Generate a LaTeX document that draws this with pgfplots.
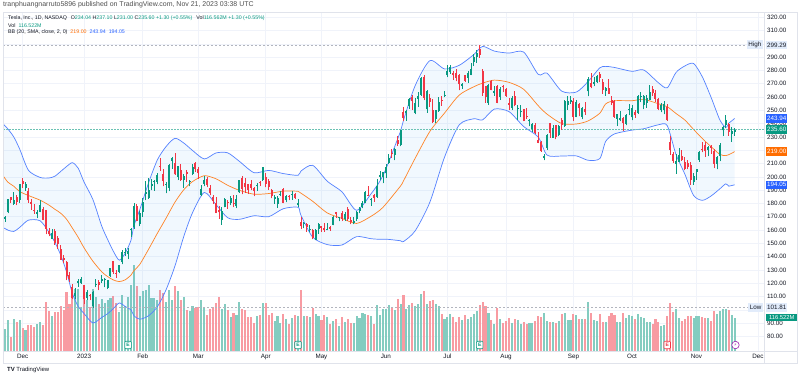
\documentclass[border=0pt]{standalone}
\usepackage{fontspec}
\setmainfont{Liberation Sans}
\newfontfamily\symfont{DejaVu Sans}
\usepackage{pgfplots}
\pgfplotsset{compat=1.18}
\usepackage{pgfplotstable}

\definecolor{upc}{RGB}{8,153,129}
\definecolor{dnc}{RGB}{242,54,69}
\definecolor{volup}{RGB}{132,204,192}
\definecolor{voldn}{RGB}{248,155,162}
\definecolor{bbblue}{RGB}{41,98,255}
\definecolor{bborange}{RGB}{255,109,0}
\definecolor{bbfillc}{RGB}{33,150,243}
\definecolor{gridc}{RGB}{240,243,250}
\definecolor{txt}{RGB}{19,23,34}
\definecolor{framec}{RGB}{224,227,235}
\definecolor{hlbg}{RGB}{226,236,251}
\definecolor{hdr}{RGB}{80,80,80}
\definecolor{purp}{RGB}{156,39,176}
\definecolor{dashc}{RGB}{178,181,190}

\newcommand{\lfnt}{\fontsize{6.3}{7}\selectfont}
\newcommand{\lgfnt}{\fontsize{5.3}{6.2}\selectfont}
\newcommand{\hdfnt}{\fontsize{7}{8}\selectfont}

% rising candles (close >= open)
\pgfplotstableread{
i o h l c v
0 168.6 170.9 166.2 169.9 78
1 173.6 183.6 172.5 183.2 109
3 179.9 188.5 179.0 182.9 112
5 182.4 194.8 180.6 194.7 109
7 191.8 196.3 189.6 194.9 73
11 172.2 175.2 169.1 173.4 97
12 173.8 182.5 173.4 179.1 104
16 153.4 160.9 153.3 157.7 123
24 110.4 116.3 108.2 112.7 221
25 120.4 123.6 117.5 121.8 221
26 119.9 124.5 119.7 123.2 157
28 109.1 114.6 107.5 113.6 180
30 103.0 114.4 101.8 113.1 220
31 119.0 123.5 117.1 119.8 190
33 122.1 126.0 120.5 123.2 183
34 122.6 124.1 117.0 123.6 169
35 116.6 122.6 115.6 122.4 180
36 125.7 131.7 125.0 131.5 186
39 128.7 133.5 127.4 133.4 138
40 135.9 145.4 134.3 143.8 197
41 143.0 146.5 140.6 143.9 158
42 141.9 146.4 138.1 144.4 192
43 160.0 161.4 154.8 160.3 234
44 162.4 180.7 161.2 177.9 306
46 164.6 174.3 162.8 173.2 196
47 173.9 183.8 169.9 181.4 213
48 187.3 196.8 182.6 188.3 217
49 184.0 199.0 183.7 190.0 232
50 193.0 198.2 189.9 194.8 186
51 196.4 197.5 189.6 196.8 186
52 196.1 203.0 194.3 201.3 180
55 194.4 196.3 187.6 194.6 172
56 191.9 209.8 189.4 209.3 216
57 211.8 214.7 206.1 214.2 181
59 200.0 208.4 197.5 208.3 213
61 197.9 202.0 191.8 200.9 191
63 196.3 197.7 192.8 196.9 142
64 202.0 209.4 201.3 207.6 161
67 186.7 193.8 186.0 190.9 181
68 194.8 200.5 192.9 197.8 154
74 167.5 177.4 163.9 174.5 147
75 177.3 183.8 177.1 183.3 168
77 180.4 185.8 178.8 184.1 121
79 178.1 186.4 176.6 183.3 129
80 188.3 198.0 188.0 197.6 172
86 193.1 195.3 189.4 193.9 123
88 197.5 207.8 197.2 207.5 170
92 183.1 186.4 179.7 185.1 106
93 179.9 185.3 176.9 184.5 123
94 186.7 189.2 185.6 186.8 100
96 183.0 186.5 180.9 185.9 114
98 186.3 189.7 182.7 187.0 116
100 179.1 183.5 177.7 180.6 125
102 164.8 166.0 161.3 165.1 123
104 159.8 163.5 158.5 160.7 121
106 152.6 160.5 152.4 160.2 130
107 160.9 165.0 157.3 164.3 123
110 160.0 165.0 159.9 160.6 120
112 164.0 170.8 163.5 170.1 107
114 169.0 169.8 166.6 169.2 88
116 168.7 173.6 166.8 172.1 103
119 165.7 169.5 164.4 166.5 98
120 168.4 174.5 167.2 173.9 125
121 174.2 177.1 172.5 176.9 117
122 177.2 182.0 176.3 180.1 136
123 180.7 189.3 180.1 188.9 132
125 182.6 184.2 178.2 182.9 124
127 184.6 198.6 184.5 193.2 162
128 200.1 204.5 197.5 201.2 128
129 199.8 204.0 195.1 203.9 150
130 202.6 209.8 199.4 207.5 149
131 210.2 217.3 209.8 214.0 164
133 216.1 221.9 212.5 221.3 146
135 224.2 235.2 223.0 234.9 165
137 247.9 250.0 242.2 249.8 150
138 253.5 259.7 251.3 258.7 162
140 248.4 259.0 247.3 255.9 160
141 258.9 263.6 252.8 260.5 167
142 261.5 274.8 261.1 274.5 201
144 250.8 265.0 248.3 264.6 166
147 243.2 250.4 240.9 250.2 165
148 249.7 259.9 248.9 256.2 159
150 260.6 264.5 259.9 261.8 112
151 276.5 284.3 275.1 279.8 120
152 278.8 283.9 277.6 282.5 131
156 268.7 270.9 266.4 269.8 108
158 274.6 279.5 270.6 277.9 113
159 277.0 285.3 276.3 281.4 119
160 286.6 292.2 283.6 290.4 131
161 290.2 295.3 286.0 293.3 141
165 255.9 269.9 254.1 269.1 136
167 263.3 268.0 261.0 264.4 95
169 259.9 267.3 258.2 266.4 112
173 252.0 260.5 250.2 259.3 100
175 251.4 253.7 242.8 251.5 111
176 248.6 253.9 245.0 249.7 96
179 241.8 243.8 238.0 242.7 99
180 235.7 240.7 233.8 239.8 99
184 214.1 217.6 212.4 215.5 136
185 221.6 232.1 220.6 231.3 106
187 229.3 239.0 229.3 236.9 101
189 231.3 239.0 230.4 238.6 106
191 238.6 257.5 237.6 257.2 135
192 254.2 260.5 250.6 256.9 108
193 256.0 261.2 255.1 258.1 108
195 245.0 258.0 244.9 256.5 129
197 245.1 252.8 243.3 251.5 112
199 264.3 274.9 260.6 273.6 175
201 270.1 275.0 268.1 271.3 111
202 271.3 276.7 270.4 276.0 107
205 264.4 267.9 261.2 266.5 103
209 243.4 247.1 238.3 247.0 104
210 243.0 249.6 241.7 244.1 101
212 240.0 247.6 238.7 246.4 117
213 250.1 254.8 246.4 250.2 128
214 244.8 254.3 242.6 251.6 123
216 248.1 261.9 247.6 261.2 130
217 260.0 263.6 256.3 260.1 119
218 254.0 261.7 250.7 260.5 117
219 255.3 261.4 252.0 259.7 101
220 257.8 268.9 257.7 263.6 103
224 250.1 255.4 248.5 253.9 89
225 250.1 257.2 247.1 254.9 93
229 210.0 217.0 202.5 212.1 150
230 211.4 222.1 211.3 216.5 118
235 196.1 202.8 194.1 200.8 118
236 204.0 206.0 197.9 205.7 123
237 213.0 219.2 211.5 218.5 125
240 220.0 223.1 215.7 222.2 117
243 210.0 215.4 205.7 214.7 130
244 215.6 225.4 211.6 223.7 140
245 235.0 238.1 230.7 237.4 149
246 239.3 246.7 236.5 242.8 150
248 232.0 237.4 226.5 234.3 129
249 234.04 237.10 231.00 235.60 116.5
}\upc

% falling candles (close < open)
\pgfplotstableread{
i o h l c v
2 185.1 185.2 180.6 182.9 50
4 184.9 186.4 178.8 180.8 102
6 197.1 198.9 191.8 194.7 80
8 189.4 191.3 180.6 182.5 93
9 181.2 183.6 175.3 179.8 92
10 175.0 179.4 172.2 174.0 84
13 176.1 177.4 167.5 167.8 93
14 174.9 175.1 156.9 161.0 175
15 159.3 161.6 155.3 156.8 140
17 159.6 161.0 149.0 150.2 139
18 154.0 155.3 145.8 149.9 138
19 146.1 148.5 137.7 137.8 159
20 139.3 141.3 135.0 137.6 145
21 136.0 136.6 122.3 125.4 210
22 126.4 128.6 121.0 123.2 166
23 117.5 119.7 108.2 109.1 208
27 118.5 118.8 104.6 108.1 231
29 110.5 111.8 107.2 110.3 157
32 121.1 122.8 114.9 118.9 167
37 136.6 136.7 127.0 128.8 195
38 127.3 130.0 124.3 127.2 170
45 178.1 179.8 166.5 166.7 230
53 207.8 214.0 204.8 207.3 215
54 202.2 206.2 192.9 196.9 204
58 210.8 217.7 201.8 202.0 229
60 205.0 209.7 197.2 197.4 180
62 203.9 205.1 196.3 202.1 146
65 210.6 211.2 203.8 205.7 153
66 206.2 207.2 198.5 202.8 156
69 198.5 199.6 192.3 193.8 128
70 191.4 194.2 186.1 187.7 148
71 185.0 186.5 180.0 182.0 154
72 180.3 185.2 172.5 172.9 170
73 175.1 178.3 168.4 173.4 191
76 180.8 182.3 176.0 180.5 145
78 180.4 186.2 177.3 180.1 133
81 199.3 200.7 186.8 191.2 149
82 195.3 199.3 188.0 192.2 145
83 194.4 194.5 187.2 190.4 120
84 194.4 197.4 189.9 191.8 120
85 192.0 192.4 185.4 189.2 98
87 195.6 197.3 193.1 195.3 126
89 199.9 202.7 192.2 194.8 169
90 197.3 198.7 190.3 192.6 126
91 190.5 190.7 183.8 185.5 133
95 190.7 191.6 180.3 180.5 131
97 185.4 186.3 182.6 185.0 96
99 187.2 187.7 183.6 184.3 128
101 166.2 169.7 160.6 163.0 215
103 164.7 165.7 158.6 162.6 124
105 160.3 160.7 153.1 153.8 153
108 163.2 163.3 158.8 161.8 109
109 161.9 165.5 158.9 160.3 128
111 162.7 163.0 159.7 161.2 95
113 173.7 173.8 169.2 171.8 113
115 172.6 174.4 166.7 168.5 119
117 176.1 177.4 167.2 168.0 112
118 167.7 169.8 164.5 166.4 98
124 186.2 193.0 185.3 185.8 127
126 186.5 186.8 181.5 184.5 96
132 217.8 221.3 214.5 217.6 151
134 228.0 230.8 223.3 224.6 185
136 249.1 252.4 242.0 244.4 199
139 260.2 261.6 250.5 256.8 170
143 275.1 277.0 257.8 259.5 211
145 259.3 262.5 252.8 256.6 177
146 250.1 258.4 240.7 241.1 179
149 258.0 260.7 253.6 257.5 131
153 278.1 280.0 272.9 276.5 120
154 278.4 280.8 271.8 274.4 104
155 276.5 277.5 265.1 269.6 119
157 276.3 276.5 271.5 272.0 126
162 296.0 299.3 289.5 291.3 163
163 279.6 280.9 261.2 262.9 175
164 268.0 268.0 255.8 260.0 161
166 272.4 272.9 265.0 265.3 108
168 268.3 269.1 255.3 255.7 152
170 267.5 269.1 263.8 267.4 100
171 266.3 266.5 260.3 261.1 106
172 255.6 259.5 250.5 254.1 118
174 261.0 264.8 253.1 253.9 113
177 250.9 251.0 241.9 242.2 101
178 245.4 251.8 243.6 245.3 96
181 238.7 240.5 232.6 233.0 105
182 228.0 234.0 225.4 225.6 123
183 226.1 226.7 218.8 219.2 120
186 240.3 240.8 229.6 233.2 101
188 238.7 238.9 228.2 230.0 99
190 242.6 244.4 235.4 238.8 130
194 257.3 259.1 242.0 245.0 132
196 255.1 255.4 245.5 251.9 115
198 251.2 256.5 246.7 248.5 115
200 270.8 278.4 266.6 267.5 136
203 277.6 279.0 271.0 274.4 132
204 271.2 273.9 262.5 265.3 101
206 267.0 273.9 262.5 262.6 123
207 257.9 260.9 254.2 255.7 134
208 257.4 257.8 244.5 244.9 127
211 244.3 245.3 234.6 240.5 136
215 248.6 250.0 244.5 246.5 115
221 266.2 268.6 260.9 263.0 94
222 262.9 265.4 256.6 258.9 112
223 258.9 259.6 250.2 251.1 102
226 252.7 254.6 242.1 242.7 125
227 226.0 230.6 216.8 220.1 170
228 217.0 218.9 210.4 212.0 138
231 215.9 220.1 212.2 212.4 107
232 211.3 214.8 204.9 205.8 115
233 210.6 212.4 205.8 207.3 123
234 209.3 210.9 194.1 197.4 123
238 221.2 226.4 218.4 220.0 119
239 224.0 226.3 215.0 219.3 117
241 223.2 224.2 217.6 222.1 106
242 219.8 220.8 206.7 210.0 142
247 239.5 240.9 231.0 233.6 145
}\dnc

% Bollinger bands
\pgfplotstableread{
i lo mid up
-0.683 162 201 240
1 160 196 236
3 159 193 230
5 162 189 221
8 167.5 186 205
12 167 182.5 199.6
15 158.4 178.8 199.2
17 150.9 175.7 200.5
19 141.3 172.7 204.1
21 128.6 168.2 207.8
23 112.3 161.5 210.7
25 102.5 154.5 206.5
27 97.2 146.6 196
30 90.2 136.6 183
33 94.3 128.7 163.1
35 97.1 125.1 153.1
37 101 122.5 144
39 105.2 121.3 137.4
41 102.6 122.6 142.6
43 100 126.2 152.4
44 95.6 129.5 163.3
46 93 134.2 175.4
49 95.6 145.6 195.6
52 102.4 157.6 212.8
55 115.3 169.1 222.9
58 133 181 229
61 155.1 190.3 225.5
64 173.1 196.5 219.9
68 188.3 200.9 213.5
72 179.2 198.6 218
76 169.3 193.7 218.1
80 168.1 189.9 211.7
85 170.8 187 203.2
90 170.1 187.5 204.9
95 176.1 189.3 202.5
100 177.2 189.2 201.2
101 171.2 187.8 204.4
105 154.7 181.7 208.7
110 149.1 172.9 196.7
115 148.8 168.8 188.8
120 155.1 165 174.9
125 153.5 170.5 187.5
128 153.1 175.1 197
130 153.2 179.6 206
135 152 193.2 234.4
136 151.4 197 242.6
140 159.5 214.1 268.7
145 181 234.2 287.4
150 214.8 248 281.2
155 239.1 261.5 283.9
160 243.7 267.8 292
163 242.9 270.5 298.1
167 251 272.8 294.6
172 249.1 271.1 293.1
177 237.9 265.9 293.9
182 229.9 253.5 277.1
185 216.4 247.2 278
190 215.7 240.1 264.5
195 215.8 239.8 263.8
199 212.5 242.1 271.7
203 213.8 247.9 282
205 226.7 254.9 283.1
208 232.3 257.3 282.3
214 235.2 257.3 279.4
218 236.2 258.3 280.4
223 239.2 255 270.8
226 238.6 252.8 267
229 216.9 247.7 278.5
232 202.2 242.8 283.4
235 186.1 235.7 285.3
238 182.4 228.8 275.2
241 185.7 222.7 259.7
244 191.1 216.9 242.7
246 194.8 216 237.2
247 193 216.7 240.4
248 193.5 217.8 242.1
249 194.05 219.0 243.94
}\bb

% band outline: upper band forward, lower band backward
\pgfplotstableread{
i y
-0.683 240
1 236
3 230
5 221
8 205
12 199.6
15 199.2
17 200.5
19 204.1
21 207.8
23 210.7
25 206.5
27 196
30 183
33 163.1
35 153.1
37 144
39 137.4
41 142.6
43 152.4
44 163.3
46 175.4
49 195.6
52 212.8
55 222.9
58 229
61 225.5
64 219.9
68 213.5
72 218
76 218.1
80 211.7
85 203.2
90 204.9
95 202.5
100 201.2
101 204.4
105 208.7
110 196.7
115 188.8
120 174.9
125 187.5
128 197
130 206
135 234.4
136 242.6
140 268.7
145 287.4
150 281.2
155 283.9
160 292
163 298.1
167 294.6
172 293.1
177 293.9
182 277.1
185 278
190 264.5
195 263.8
199 271.7
203 282
205 283.1
208 282.3
214 279.4
218 280.4
223 270.8
226 267
229 278.5
232 283.4
235 285.3
238 275.2
241 259.7
244 242.7
246 237.2
247 240.4
248 242.1
249 243.94
249 194.05
248 193.5
247 193
246 194.8
244 191.1
241 185.7
238 182.4
235 186.1
232 202.2
229 216.9
226 238.6
223 239.2
218 236.2
214 235.2
208 232.3
205 226.7
203 213.8
199 212.5
195 215.8
190 215.7
185 216.4
182 229.9
177 237.9
172 249.1
167 251
163 242.9
160 243.7
155 239.1
150 214.8
145 181
140 159.5
136 151.4
135 152
130 153.2
128 153.1
125 153.5
120 155.1
115 148.8
110 149.1
105 154.7
101 171.2
100 177.2
95 176.1
90 170.1
85 170.8
80 168.1
76 169.3
72 179.2
68 188.3
64 173.1
61 155.1
58 133
55 115.3
52 102.4
49 95.6
46 93
44 95.6
43 100
41 102.6
39 105.2
37 101
35 97.1
33 94.3
30 90.2
27 97.2
25 102.5
23 112.3
21 128.6
19 141.3
17 150.9
15 158.4
12 167
8 167.5
5 162
3 159
1 160
-0.683 162
}\bbpoly

\pgfplotsset{
  tvaxis/.style={at={(3bp,27bp)}, anchor=south west, scale only axis,
    width=761bp, height=339bp, xmin=-0.683, xmax=259.04},
  wick/.style={only marks, mark=none, mark size=0pt, mark options={draw=none, fill=none}, forget plot,
    error bars/.cd, y dir=plus, y explicit, error mark=none,
    error bar style={line width=0.75bp, draw=#1}},
  body/.style={only marks, mark=none, mark size=0pt, mark options={draw=none, fill=none}, forget plot,
    error bars/.cd, y dir=plus, y explicit, error mark=none,
    error bar style={line width=2bp, draw=#1}},
}

\begin{document}
\begin{tikzpicture}[x=1bp,y=1bp]
\useasboundingbox (0,0) rectangle (800,378);
\fill[white] (0,0) rectangle (800,378);

% grid and scales
\begin{axis}[tvaxis, ymin=69.1, ymax=324.0,
  axis line style={draw=none}, tick style={draw=none},
  xtick={6,27,47,66,89,108,130,151,171,194,214,236,257},
  xticklabels={Dec,2023,Feb,Mar,Apr,May,Jun,Jul,Aug,Sep,Oct,Nov,Dec},
  ytick={80,90,...,320},
  yticklabels={80.00,90.00,,110.00,120.00,130.00,140.00,150.00,160.00,170.00,180.00,190.00,200.00,210.00,220.00,230.00,240.00,250.00,260.00,270.00,280.00,290.00,,310.00,320.00},
  yticklabel pos=right,
  grid=major, major grid style={draw=gridc, line width=0.7bp},
  xticklabel style={font=\lfnt, text=txt, inner sep=0pt, yshift=-2.5bp},
  yticklabel style={font=\lfnt, text=txt, inner sep=0pt, anchor=west, xshift=3bp},
]
\addplot[draw=none, forget plot] coordinates {(0,200) (1,200)};
\end{axis}

% volume
\begin{axis}[tvaxis, ymin=0, ymax=1200, hide axis]
\addplot[ycomb, draw=volup, line width=2.1bp, mark=none, forget plot] table[x=i, y=v] {\upc};
\addplot[ycomb, draw=voldn, line width=2.1bp, mark=none, forget plot] table[x=i, y=v] {\dnc};
\coordinate (VL) at (axis cs:259.04,116.5);
\coordinate (E1) at (axis cs:42,0);
\coordinate (E2) at (axis cs:100,0);
\coordinate (E3) at (axis cs:162,0);
\coordinate (E4) at (axis cs:226,0);
\coordinate (E5) at (axis cs:249.3,0);
\end{axis}

% price
\begin{axis}[tvaxis, ymin=69.1, ymax=324.0, hide axis]
\addplot[fill=bbfillc, fill opacity=0.06, draw=none, forget plot] table[x=i, y=y] {\bbpoly};
\addplot[bbblue!80, line width=0.7bp, smooth, tension=0.45, forget plot] table[x=i, y=up] {\bb};
\addplot[bbblue!80, line width=0.7bp, smooth, tension=0.45, forget plot] table[x=i, y=lo] {\bb};
\addplot[bborange!85, line width=0.7bp, smooth, tension=0.45, forget plot] table[x=i, y=mid] {\bb};

\draw[dashc, line width=0.6bp, dash pattern=on 2bp off 2bp] (axis cs:-0.683,299.29) -- (axis cs:254.9,299.29);
\draw[dashc, line width=0.6bp, dash pattern=on 2bp off 2bp] (axis cs:-0.683,101.81) -- (axis cs:254.9,101.81);
\draw[upc!60, line width=0.6bp, dash pattern=on 1.5bp off 1.5bp] (axis cs:-0.683,235.6) -- (axis cs:259.04,235.6);

\addplot[wick=upc] table[x=i, y=l, y error plus expr={\thisrow{h}-\thisrow{l}}] {\upc};
\addplot[wick=dnc] table[x=i, y=l, y error plus expr={\thisrow{h}-\thisrow{l}}] {\dnc};
\addplot[body=upc] table[x=i, y=o, y error plus expr={max(\thisrow{c}-\thisrow{o},0.6)}] {\upc};
\addplot[body=dnc] table[x=i, y=c, y error plus expr={max(\thisrow{o}-\thisrow{c},0.6)}] {\dnc};

\coordinate (PH) at (axis cs:259.04,299.29);
\coordinate (PLo) at (axis cs:259.04,101.81);
\coordinate (PU) at (axis cs:259.04,243.94);
\coordinate (PC) at (axis cs:259.04,235.6);
\coordinate (PM) at (axis cs:259.04,219.0);
\coordinate (PD) at (axis cs:259.04,194.05);
\end{axis}

% frame
\draw[framec, line width=0.6bp] (3,15) rectangle (797,366);
\draw[framec, line width=0.6bp] (3,27) -- (797,27);
\draw[framec, line width=0.6bp] (764,15) -- (764,366);

% price scale labels
\tikzset{plab/.style={anchor=west, inner sep=0pt, minimum height=8.5bp, minimum width=21bp, font=\lfnt, text=white}}
\node[plab, fill=hlbg, text=txt] at ([xshift=2bp]PH) {299.29};
\node[plab, fill=hlbg, text=txt] at ([xshift=2bp]PLo) {101.81};
\node[fill=hlbg, text=txt, anchor=east, inner sep=1.5bp, minimum height=8.5bp, font=\lfnt] at ([xshift=-1bp]PH) {High};
\node[fill=hlbg, text=txt, anchor=east, inner sep=1.5bp, minimum height=8.5bp, font=\lfnt] at ([xshift=-1bp]PLo) {Low};
\node[plab, fill=bbblue] at ([xshift=2bp]PU) {243.94};
\node[plab, fill=upc] at ([xshift=2bp]PC) {235.60};
\node[plab, fill=bborange] at ([xshift=2bp]PM) {219.00};
\node[plab, fill=bbblue] at ([xshift=2bp]PD) {194.05};
\node[plab, fill=upc, minimum width=31bp, minimum height=7.5bp, font=\fontsize{5.8}{6}\selectfont] at ([xshift=2bp, yshift=0.8bp]VL) {116.522M};

% event markers
\foreach \n/\cc in {E1/upc,E2/upc,E3/upc,E4/dnc}{
  \node[draw=\cc, fill=white, text=\cc, rounded corners=1bp, inner sep=0pt,
        minimum width=6.5bp, minimum height=7.5bp, line width=0.6bp,
        font=\fontsize{5}{5}\selectfont\bfseries] at ([yshift=6bp]\n) {E};
}
\node[draw=purp, circle, fill=white, text=purp, inner sep=0pt, minimum size=7.5bp,
      line width=0.6bp, font=\symfont\fontsize{4.5}{5}\selectfont] at ([yshift=6bp]E5) {⚡};

% header and legend
\node[anchor=west, inner sep=0pt, font=\hdfnt, text=hdr] at (3,373)
  {tranphuangnarruto5896 published on TradingView.com, Nov 21, 2023 03:38 UTC};
\node[anchor=west, inner sep=0pt, font=\lgfnt, text=txt] at (8,360.3)
  {Tesla, Inc., 1D, NASDAQ\hspace{4bp}O\textcolor{upc}{234.04} H\textcolor{upc}{237.10} L\textcolor{upc}{231.00} C\textcolor{upc}{235.60} \textcolor{upc}{+1.30 (+0.55\%)}\hspace{4bp}Vol\textcolor{upc}{116.562M} \textcolor{upc}{+1.30 (+0.55\%)}};
\node[anchor=west, inner sep=0pt, font=\lgfnt, text=txt] at (8,352.3)
  {Vol\hspace{3bp}\textcolor{upc}{116.522M}};
\node[anchor=west, inner sep=0pt, font=\lgfnt, text=txt] at (8,345.7)
  {BB (20, SMA, close, 2, 0)\hspace{3bp}\textcolor{bborange}{219.00}\hspace{3bp}\textcolor{bbblue}{243.94}\hspace{3bp}\textcolor{bbblue}{194.05}};

% logo
\node[anchor=west, inner sep=0pt, font=\fontsize{6}{6}\selectfont, text=txt] at (7,8)
  {{\bfseries TV}\hspace{1.5bp}TradingView};
\end{tikzpicture}
\end{document}
